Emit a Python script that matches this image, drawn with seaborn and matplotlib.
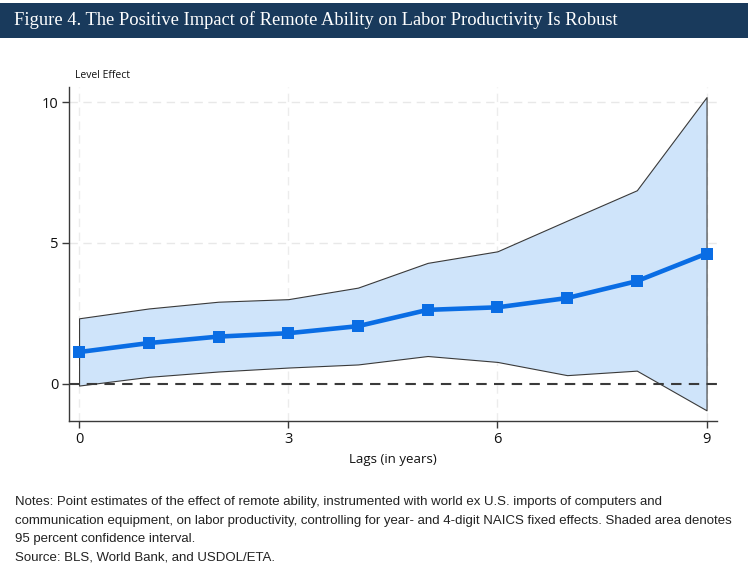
import numpy as np
import pandas as pd
import matplotlib
matplotlib.use("Agg")
import matplotlib.pyplot as plt
import seaborn as sns

# values
lags = [0, 1, 2, 3, 4, 5, 6, 7, 8, 9]
estimate = [1.12, 1.44, 1.67, 1.79, 2.04, 2.62, 2.71, 3.04, 3.64, 4.62]
upper_ci = [2.32, 2.67, 2.91, 3.00, 3.41, 4.29, 4.70, 5.79, 6.87, 10.18]
lower_ci = [-0.07, 0.24, 0.43, 0.57, 0.68, 0.98, 0.77, 0.30, 0.46, -0.95]

x_ticks = [0, 3, 6, 9]
y_ticks = [0, 5, 10]

title = "Figure 4. The Positive Impact of Remote Ability on Labor Productivity Is Robust"
notes = ("Notes: Point estimates of the effect of remote ability, instrumented with world ex U.S. imports of computers and\n"
         "communication equipment, on labor productivity, controlling for year- and 4-digit NAICS fixed effects. Shaded area denotes\n"
         "95 percent confidence interval.\n"
         "Source: BLS, World Bank, and USDOL/ETA.")

df = pd.DataFrame({"lag": lags, "estimate": estimate, "upper": upper_ci, "lower": lower_ci})

sns.set_theme(style="white")
plt.rcParams["font.family"] = ["Open Sans", "DejaVu Sans"]

navy = "#193a5c"
line_blue = "#0a6de4"
band_blue = "#cfe4fa"
dark = "#3a3a3a"

fig = plt.figure(figsize=(7.48, 5.70), dpi=100)
fig.patch.set_facecolor("white")

# header band
fig.patches.append(plt.Rectangle((0, 1 - 38 / 570), 1, 35 / 570, transform=fig.transFigure,
                                 facecolor=navy, edgecolor="none", zorder=0))
fig.text(14 / 748, 1 - 20.5 / 570, title, color="white", fontsize=13.3,
         family=["Liberation Serif", "DejaVu Serif"], va="center", ha="left")

ax = fig.add_axes([69.3 / 748, 1 - 421.3 / 570, (717 - 69.3) / 748, (421.3 - 86.7) / 570])

# grid
for xv in x_ticks:
    ax.axvline(xv, color="#ececec", lw=1, ls=(0, (6, 4)), zorder=0)
for yv in y_ticks[1:]:
    ax.axhline(yv, color="#e8e8e8", lw=1, ls=(0, (6, 4)), zorder=0)

ax.fill_between(df["lag"], df["lower"], df["upper"], facecolor=band_blue,
                edgecolor=dark, linewidth=0.8, zorder=1)
ax.axhline(0, color=dark, lw=1.5, ls=(0, (5, 3.5)), zorder=2)

sns.lineplot(data=df, x="lag", y="estimate", ax=ax, color=line_blue, lw=3.3,
             marker="s", markersize=9, markeredgewidth=0, zorder=3)

ax.set_xlim(-0.14, 9.15)
ax.set_ylim(-1.34, 10.55)
ax.set_xticks(x_ticks)
ax.set_yticks(y_ticks)
ax.set_xlabel("Lags (in years)", fontsize=9.5, color="#111111", labelpad=4)
ax.set_ylabel("")
ax.tick_params(axis="both", direction="out", length=5, width=1, color=dark,
               labelsize=10.5, labelcolor="#111111", pad=3, left=True, bottom=True)
for s in ["top", "right"]:
    ax.spines[s].set_visible(False)
for s in ["left", "bottom"]:
    ax.spines[s].set_color(dark)
    ax.spines[s].set_linewidth(1)
ax.set_facecolor("white")

fig.text(75 / 748, 1 - 76 / 570, "Level Effect", fontsize=7.5, color="#111111", va="center", ha="left")

fig.text(15 / 748, 1 - 496 / 570, notes, fontsize=9.5, color="#222222", va="top", ha="left",
         family=["Liberation Sans", "DejaVu Sans"], linespacing=1.74)

fig.savefig("out.png", dpi=100)
